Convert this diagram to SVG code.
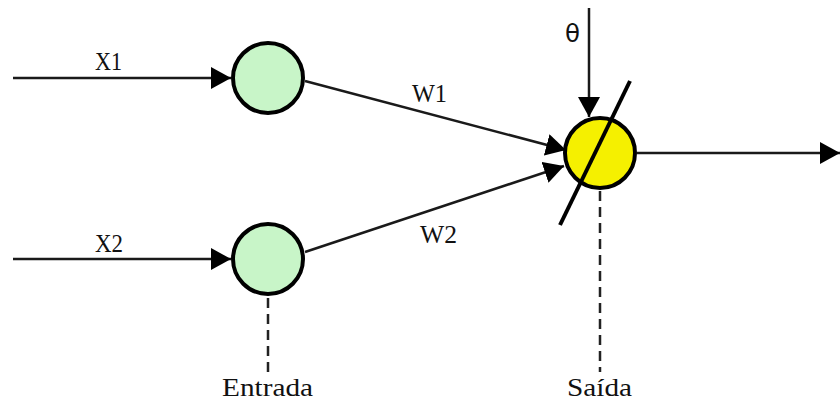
<svg xmlns="http://www.w3.org/2000/svg" width="840" height="405" viewBox="0 0 840 405">
  <defs>
    <marker id="arrow" viewBox="0 0 20 22" refX="20" refY="11" markerWidth="20" markerHeight="22" markerUnits="userSpaceOnUse" orient="auto">
      <path d="M0,0 L20,11 L0,22 Z" fill="#000"/>
    </marker>
  </defs>
  <style>
    .edge { stroke: #1a1a1a; stroke-width: 2.5; fill: none; marker-end: url(#arrow); }
    .dash { stroke: #222; stroke-width: 2.5; stroke-dasharray: 10 6; fill: none; }
    .in { fill: #c8f5c8; stroke: #000; stroke-width: 4; }
    .out { fill: #f5f000; stroke: #000; stroke-width: 4; }
    .lbl { font-family: "Liberation Serif", "DejaVu Serif", serif; font-size: 25px; fill: #111; }
  </style>
  <rect width="840" height="405" fill="#fff"/>

  <!-- connectors -->
  <g id="connectors">
    <line class="edge" x1="13" y1="78" x2="231" y2="78"/>
    <line class="edge" x1="13" y1="259" x2="231" y2="259"/>
    <line class="edge" x1="305" y1="81" x2="566" y2="150"/>
    <line class="edge" x1="305" y1="252" x2="564" y2="166"/>
    <line class="edge" x1="589" y1="8" x2="589" y2="117"/>
    <line class="edge" x1="637" y1="153" x2="840" y2="153"/>
    <line class="dash" x1="268" y1="298" x2="268" y2="372"/>
    <line class="dash" x1="600" y1="191" x2="600" y2="372"/>
  </g>

  <!-- input neurons -->
  <g id="input1">
    <circle class="in" cx="268" cy="78" r="35"/>
  </g>
  <g id="input2">
    <circle class="in" cx="268" cy="259" r="35"/>
  </g>

  <!-- output neuron with threshold slash -->
  <g id="output">
    <circle class="out" cx="600" cy="153" r="35"/>
    <line x1="630" y1="81" x2="560" y2="225" stroke="#000" stroke-width="4"/>
  </g>

  <!-- labels -->
  <g id="labels">
    <text class="lbl" x="95" y="70" textLength="27" lengthAdjust="spacingAndGlyphs">X1</text>
    <text class="lbl" x="95" y="252" textLength="28" lengthAdjust="spacingAndGlyphs">X2</text>
    <text class="lbl" x="412" y="102" textLength="35" lengthAdjust="spacingAndGlyphs">W1</text>
    <text class="lbl" x="420" y="243" textLength="37" lengthAdjust="spacingAndGlyphs">W2</text>
    <text class="lbl" x="565" y="42" style="font-family:'DejaVu Sans',sans-serif;font-size:25px" textLength="15" lengthAdjust="spacingAndGlyphs">θ</text>
    <text class="lbl" x="222" y="396" textLength="91" lengthAdjust="spacingAndGlyphs">Entrada</text>
    <text class="lbl" x="567" y="396" textLength="65" lengthAdjust="spacingAndGlyphs">Saída</text>
  </g>
</svg>
